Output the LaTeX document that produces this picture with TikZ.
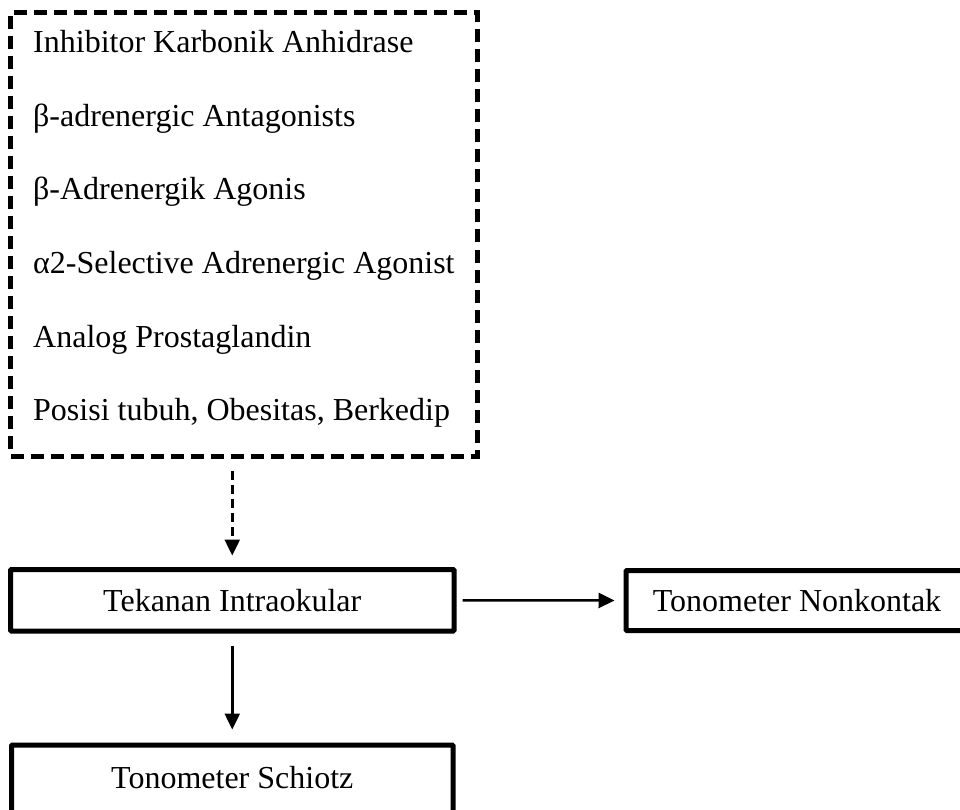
\documentclass[tikz,border=0pt]{standalone}
\usepackage{fontspec}
\setmainfont{Liberation Serif}
\usetikzlibrary{arrows.meta}
\begin{document}
\begin{tikzpicture}[x=1pt,y=-1pt,
  every node/.style={font=\fontsize{32}{38}\selectfont, inner sep=0pt},
  listbox/.style={draw, line width=5pt, dash pattern=on 13pt off 7pt, minimum width=466.5pt, minimum height=443.5pt},
  solidbox/.style={draw, line width=5pt, rounded corners=1pt},
  item/.style={anchor=base west},
  conn/.style={line width=2.5pt, -{Triangle[length=16pt,width=15pt]}},
  dconn/.style={conn, dash pattern=on 9pt off 5pt}
]
\useasboundingbox (0,0) rectangle (960,810);
\clip (0,0) rectangle (960,810);
\node[listbox] (box) at (243.75,234.25) {};
\node[item] (i1) at (33,53) {Inhibitor Karbonik Anhidrase};
\node[item] (i2) at (33,126.5) {β-adrenergic Antagonists};
\node[item] (i3) at (33,200) {β-Adrenergik Agonis};
\node[item] (i4) at (33,273) {α2-Selective Adrenergic Agonist};
\node[item] (i5) at (33,347) {Analog Prostaglandin};
\node[item] (i6) at (33,420) {Posisi tubuh, Obesitas, Berkedip};
\node[solidbox, minimum width=443.5pt, minimum height=61.5pt] (tek) at (232.25,600.25) {Tekanan Intraokular};
\node[solidbox, minimum width=342pt, minimum height=60pt] (nonk) at (797,600.5) {Tonometer Nonkontak};
\node[solidbox, minimum width=441.5pt, minimum height=70pt] (sch) at (232.25,780) {};
\node (schtext) at (232.25,778) {Tonometer Schiotz};
\draw[dconn, shorten <=12pt, shorten >=11.5pt] (box.south -| tek.north) -- (tek.north);
\draw[conn, shorten <=6pt, shorten >=9pt] (tek.east) -- (nonk.west);
\draw[conn, shorten <=12pt, shorten >=13pt] (tek.south) -- (sch.north);
\end{tikzpicture}
\end{document}
